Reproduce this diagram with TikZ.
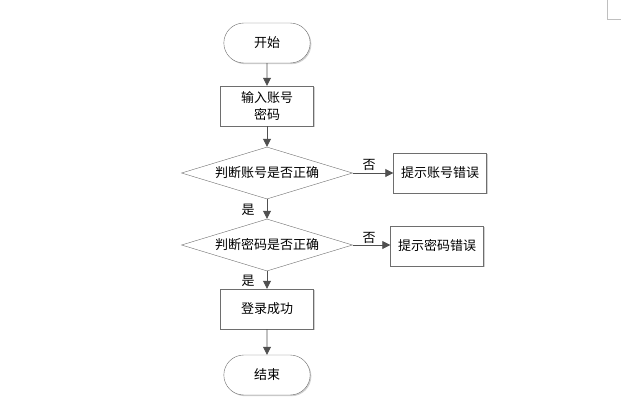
\documentclass[tikz,border=0pt]{standalone}
\usepackage{fontspec}
\newfontfamily\cjk{Noto Sans CJK SC}
\usetikzlibrary{arrows.meta, shapes.geometric, shapes.misc, shadows}

\definecolor{linegray}{HTML}{505050}
\definecolor{edgegray}{HTML}{6E6E6E}

\begin{document}
\begin{tikzpicture}[x=1pt, y=-1pt,
  font=\cjk\fontsize{13}{16}\selectfont,
  boxshadow/.style={drop shadow={shadow xshift=1.2pt, shadow yshift=-1.2pt, fill=black!18, opacity=1}},
  term/.style={rounded rectangle, draw=edgegray, fill=white, boxshadow, minimum width=93pt, minimum height=40pt},
  proc/.style={rectangle, draw=edgegray, fill=white, boxshadow, minimum width=93pt, minimum height=40pt, align=center, inner sep=2pt},
  test/.style={diamond, draw=edgegray, fill=white, aspect=3.3, minimum width=171pt, minimum height=52pt, inner sep=0pt},
  flow/.style={draw=linegray, line width=0.8pt, -{Triangle[length=8pt, width=8pt]}},
  tag/.style={inner sep=0pt}]
\useasboundingbox (0,0) rectangle (621,410);

% page corner
\draw[black!25, line width=0.6pt] (607,0) -- (607,19) -- (621,19);

\node[term] (S)  at (267,43)  {开始};
\node[proc] (I)  at (267,106) {输入账号\\[1pt]密码};
\node[test] (D1) at (267,173) {判断账号是否正确};
\node[proc] (E1) at (440,173) {提示账号错误};
\node[test] (D2) at (267,245) {判断密码是否正确};
\node[proc] (E2) at (437,246) {提示密码错误};
\node[proc] (OK) at (267,309) {登录成功};
\node[term] (T)  at (267,375) {结束};

\draw[flow] (S) -- (I);
\draw[flow] (I) -- (D1);
\draw[flow] (D1) -- (E1);
\draw[flow] (D1) -- (D2);
\draw[flow] (D2) -- (D2 -| E2.west);
\draw[flow] (D2) -- (OK);
\draw[flow] (OK) -- (T);

\node[tag] (N1) at (369,165) {否};
\node[tag] (N2) at (369,238) {否};
\node[tag] (Y1) at (248,210) {是};
\node[tag] (Y2) at (248,281) {是};
\end{tikzpicture}
\end{document}
